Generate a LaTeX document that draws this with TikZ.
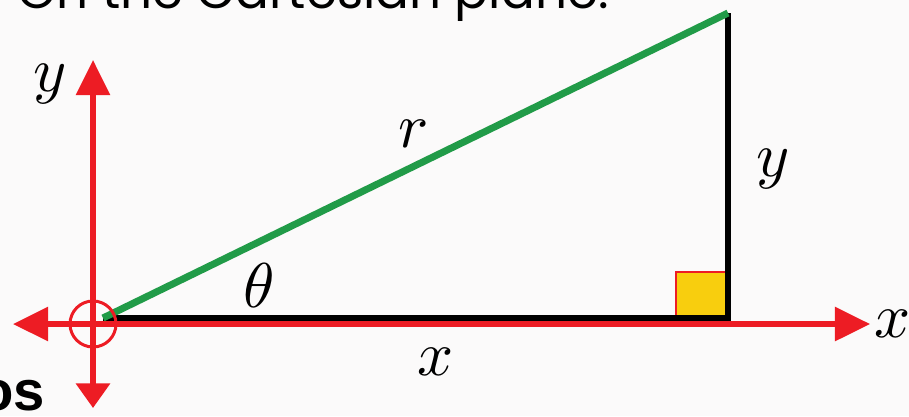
\documentclass[tikz,border=0pt]{standalone}
\usepackage{fontspec}
\usepackage{unicode-math}
\usetikzlibrary{arrows.meta}
\newfontfamily\titlefont{Poppins}
\newfontfamily\tagfont{Liberation Sans}
\definecolor{axisred}{RGB}{237,28,36}
\definecolor{hypgreen}{RGB}{33,155,72}
\definecolor{boxyellow}{RGB}{248,206,14}
\definecolor{paper}{RGB}{251,250,250}
\begin{document}
\begin{tikzpicture}[x=0.02cm,y=-0.02cm,line join=miter,
		lbl/.style={font=\fontsize{36}{40}\selectfont,inner sep=0pt},
		axis/.style={axisred,line width=3pt},
		bigtip/.tip={Triangle[length=20pt,width=19pt]},
		smalltip/.tip={Triangle[length=14pt,width=19pt]}]
	\useasboundingbox (0,0) rectangle (909,416);
	\fill[paper] (0,0) rectangle (909,416);
	\clip (0,0) rectangle (909,416);
	% triangle corners
	\coordinate (O) at (103,318);
	\coordinate (R) at (728,318);
	\coordinate (T) at (728,13);
	% axes
	\coordinate (C) at (93,324);
	\coordinate (xl) at (13,324);
	\coordinate (xr) at (870,324);
	\coordinate (yt) at (93,60);
	\coordinate (yb) at (93,408);
	% texts cut at the edges
	\node[anchor=base west,inner sep=0pt,font=\titlefont\fontsize{28.5}{32}\selectfont] (title) at (17,8) {On the Cartesian plane:};
	\node[anchor=base east,inner sep=0pt,font=\tagfont\bfseries\fontsize{32}{34}\selectfont] (tag) at (45,410) {os};
	% right angle mark
	\filldraw[fill=boxyellow,draw=axisred,line width=0.8pt] (676,272) rectangle (R);
	\draw[line width=3.5pt] (O) -- (R) -- (T);
	\draw[hypgreen,line width=4pt] (O) -- (T);
	\draw[axis,bigtip-bigtip] (xl) -- (xr);
	\draw[axis,bigtip-smalltip] (yt) -- (yb);
	\draw[axisred,line width=1.7pt] (C) circle[radius=23];
	% labels
	\node[lbl] (ylab) at (50,84) {$y$};
	\node[lbl] (rlab) at (413,134) {$r$};
	\node[lbl] (yside) at (773,169) {$y$};
	\node[lbl] (thlab) at (259,286) {$\theta$};
	\node[lbl] (xside) at (436,362) {$x$};
	\node[lbl] (xlab) at (893,324) {$x$};
\end{tikzpicture}
\end{document}
